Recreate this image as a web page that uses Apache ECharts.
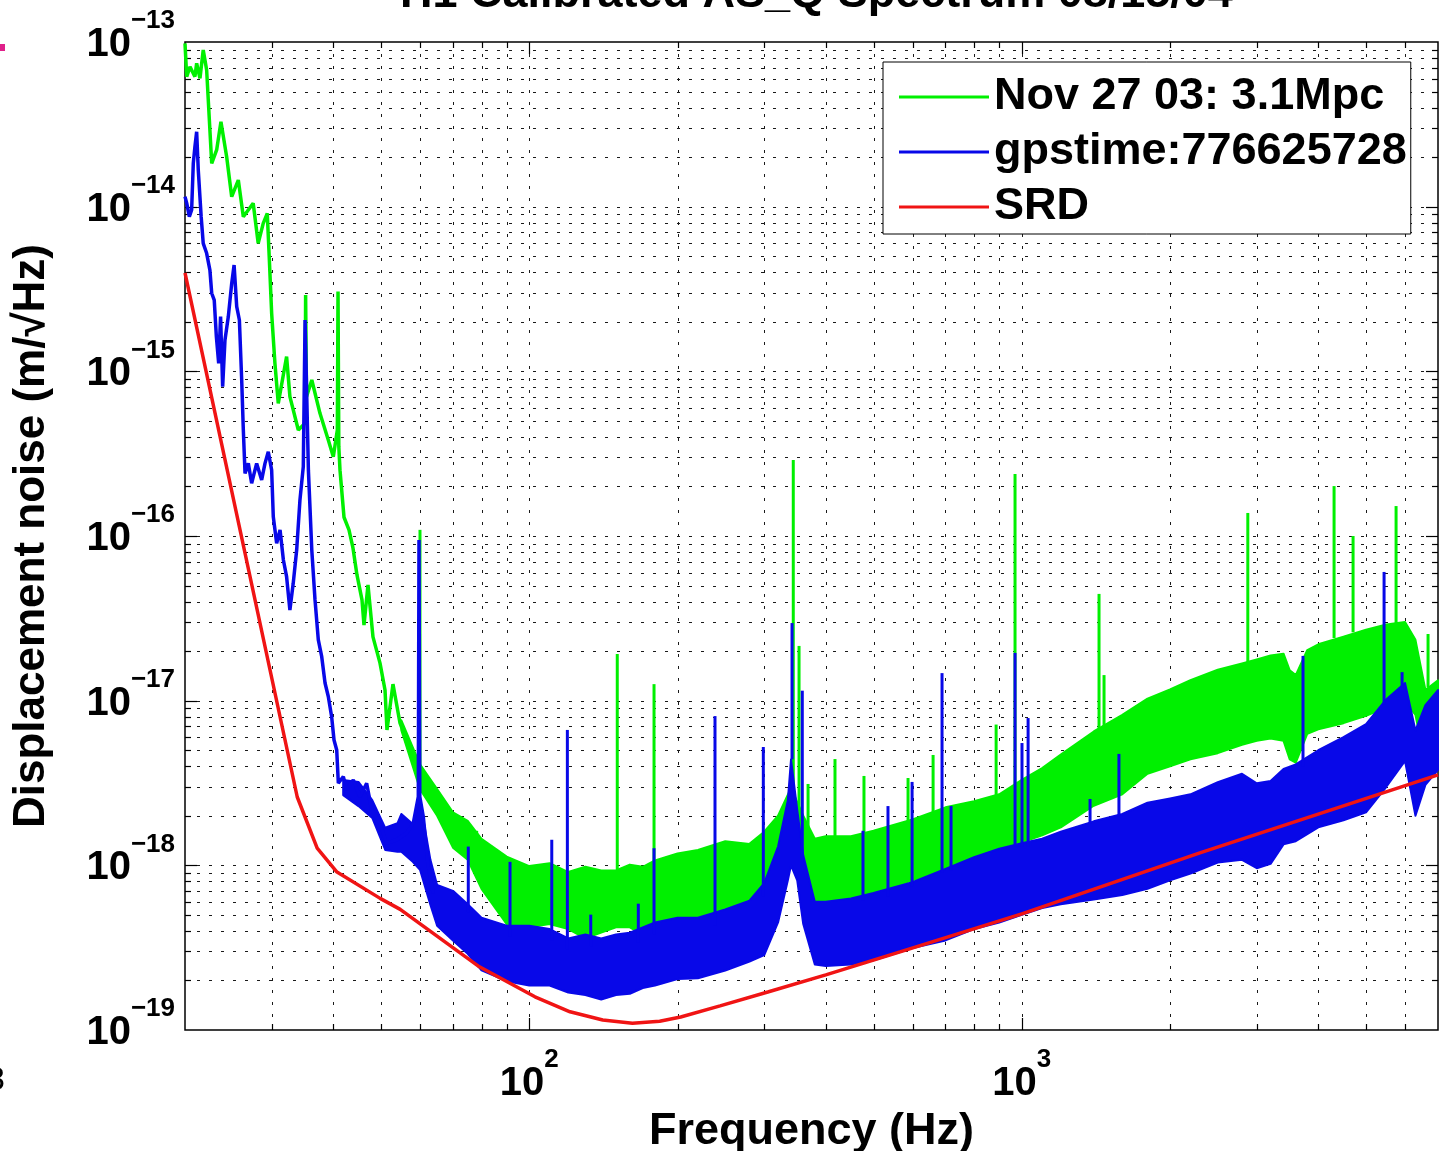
<!DOCTYPE html>
<html><head><meta charset="utf-8">
<script src="https://cdn.jsdelivr.net/npm/echarts@6/dist/echarts.min.js"></script>
<style>html,body{margin:0;padding:0;background:#fff}#c{width:1440px;height:1151px}</style>
</head><body><div id="c"></div>
<script>
// ---------------- text ----------------
const TITLE = 'H1 Calibrated AS_Q Spectrum 08/15/04';
const X_LABEL = 'Frequency (Hz)';
const Y_LABEL = 'Displacement noise (m/\u221AHz)';
const LEGEND_NAMES = ['Nov 27 03: 3.1Mpc', 'gpstime:776625728', 'SRD'];
const X_RANGE = [20, 7000];
const Y_RANGE = [1e-19, 1e-13];

// ---------------- SRD (red) ----------------
const SRD_F = [20, 33.8, 37.1, 40.7, 49.8, 54.7, 78.7, 102.7, 121, 141, 162, 184, 203, 244, 305, 400, 566, 1000, 2300, 7000];
const SRD_V = [3.96e-15, 2.6e-18, 1.27e-18, 9.1e-19, 6.3e-19, 5.4e-19, 2.45e-19, 1.59e-19, 1.29e-19, 1.15e-19, 1.10e-19, 1.13e-19, 1.2e-19, 1.4e-19, 1.7e-19, 2.16e-19, 2.98e-19, 5.07e-19, 1.19e-18, 3.54e-18];

// ---------------- Nov 27 03 (green): low-frequency trace ----------------
const GREEN_LF_F = [20, 20.16, 20.47, 20.95, 21.12, 21.45, 21.78, 22.13, 22.66, 23.19, 23.66, 24.30, 24.88, 25.66, 26.27, 27.51, 28.16, 28.83, 29.38, 29.65, 29.99, 30.45, 30.93, 32.16, 32.66, 33.97, 35.06, 35.15, 35.3, 36.18, 37.59, 39.08, 40.01, 40.77, 40.9, 41.05, 41.28, 42.06, 43.05, 43.86, 44.69, 45.75, 46.18, 47.05, 48.16, 49.77, 50.95, 51.42, 52.88, 54.64, 57.25, 60.01, 63.78];
const GREEN_LF_V = [9.82e-14, 6.16e-14, 7.08e-14, 6.16e-14, 7.42e-14, 6.02e-14, 8.94e-14, 6.76e-14, 1.83e-14, 2.21e-14, 3.28e-14, 2.01e-14, 1.15e-14, 1.45e-14, 8.69e-15, 1.05e-14, 5.99e-15, 7.92e-15, 9.11e-15, 4.97e-15, 2.25e-15, 1.12e-15, 6.39e-16, 1.23e-15, 7.02e-16, 4.4e-16, 4.84e-16, 2.91e-15, 7.0e-16, 8.86e-16, 5.56e-16, 3.83e-16, 3.03e-16, 4.4e-16, 3.05e-15, 3.5e-16, 2.51e-16, 1.30e-16, 1.09e-16, 8.46e-17, 5.8e-17, 4.09e-17, 2.88e-17, 5.04e-17, 2.44e-17, 1.69e-17, 1.16e-17, 6.64e-18, 1.26e-17, 7.32e-18, 5.02e-18, 3.44e-18, 2.49e-18];

// green noise band (upper / lower envelope)
const GREEN_BAND_F = [55, 60, 65, 70, 75, 80, 90, 100, 110, 120, 130, 140, 150, 160, 170, 180, 200, 220, 250, 280, 300, 320, 340, 360, 380, 400, 450, 500, 600, 700, 800, 900, 1000, 1100, 1200, 1400, 1600, 1800, 2000, 2200, 2500, 2800, 3000, 3200, 3400, 3500, 3600, 3800, 4000, 4500, 5000, 5500, 6000, 6300, 6600, 7000];
const GREEN_BAND_TOP = [7.6e-18, 4.1e-18, 2.9e-18, 2.1e-18, 1.86e-18, 1.45e-18, 1.13e-18, 9.9e-19, 1.03e-18, 9.1e-19, 9.8e-19, 9.3e-19, 9.3e-19, 1.01e-18, 9.8e-19, 1.07e-18, 1.18e-18, 1.24e-18, 1.4e-18, 1.35e-18, 1.6e-18, 2.0e-18, 2.95e-18, 2.0e-18, 1.45e-18, 1.5e-18, 1.5e-18, 1.62e-18, 1.9e-18, 2.25e-18, 2.45e-18, 2.7e-18, 3.3e-18, 3.9e-18, 4.7e-18, 6.5e-18, 8.2e-18, 1.03e-17, 1.17e-17, 1.33e-17, 1.54e-17, 1.68e-17, 1.78e-17, 1.88e-17, 1.93e-17, 1.53e-17, 1.43e-17, 2.03e-17, 2.2e-17, 2.45e-17, 2.7e-17, 2.9e-17, 3.0e-17, 2.34e-17, 1.16e-17, 1.33e-17];
const GREEN_BAND_BOT = [6.6e-18, 2.9e-18, 2.0e-18, 1.28e-18, 1.08e-18, 7.2e-19, 4.4e-19, 4.2e-19, 4.4e-19, 4.1e-19, 3.6e-19, 3.9e-19, 4.2e-19, 4.2e-19, 3.8e-19, 4.0e-19, 4.8e-19, 4.8e-19, 4.6e-19, 4.8e-19, 5.2e-19, 7.3e-19, 1.05e-18, 7.1e-19, 5.4e-19, 5.8e-19, 6.2e-19, 6.7e-19, 8.1e-19, 9.3e-19, 1.07e-18, 1.28e-18, 1.38e-18, 1.52e-18, 1.7e-18, 2.3e-18, 2.7e-18, 3.6e-18, 4.0e-18, 4.4e-18, 4.8e-18, 5.4e-18, 5.7e-18, 5.9e-18, 5.7e-18, 4.4e-18, 4.2e-18, 6.3e-18, 6.7e-18, 7.3e-18, 8.1e-18, 9.1e-18, 9.9e-18, 8.2e-18, 4.07e-18, 5.4e-18];

// green line spikes: frequency, foot, tip
const GREEN_SPIKE_F = [60.0, 78.2, 150.9, 179.2, 343.6, 353, 368.2, 417.6, 478.2, 587.6, 660.6, 887, 969, 1435, 1469, 2877, 4306, 4706, 5754, 6682];
const GREEN_SPIKE_BASE = [3.5e-18, 1.37e-18, 7.9e-19, 9.1e-19, 2.9e-18, 2.2e-18, 1.7e-18, 1.4e-18, 1.5e-18, 1.8e-18, 2.0e-18, 2.6e-18, 3.0e-18, 6.4e-18, 6.6e-18, 1.7e-17, 2.4e-17, 2.6e-17, 2.9e-17, 1.2e-17];
const GREEN_SPIKE_PEAK = [1.09e-16, 1.62e-18, 1.92e-17, 1.26e-17, 2.89e-16, 2.15e-17, 3.12e-18, 4.42e-18, 3.49e-18, 3.39e-18, 4.68e-18, 7.16e-18, 2.38e-16, 4.45e-17, 1.43e-17, 1.38e-16, 2.01e-16, 1.0e-16, 1.52e-16, 2.54e-17];

// ---------------- gpstime:776625728 (blue): low-frequency trace ----------------
const BLUE_LF_F = [20, 20.16, 20.41, 20.63, 20.79, 20.95, 21.12, 21.28, 21.57, 21.78, 22.13, 22.47, 22.66, 22.93, 23.16, 23.41, 23.62, 23.85, 24.11, 24.49, 24.88, 25.16, 25.47, 25.79, 26.07, 26.27, 26.48, 26.89, 27.31, 27.96, 28.62, 29.07, 29.52, 29.99, 30.22, 30.70, 31.19, 31.68, 32.16, 32.66, 33.17, 33.71, 34.23, 34.77, 35.06, 35.61, 36.18, 36.73, 37.30, 37.90, 38.49, 39.08, 39.70, 40.14, 40.65, 40.96, 41.93, 42.60, 43.92, 45.31, 46.76, 47.87, 49.77, 51.35, 53.80, 56.37, 58.14, 59.53, 59.72, 59.95, 60.94, 62.38, 63.83];
const BLUE_LF_V = [1.15e-14, 1.05e-14, 8.69e-15, 9.54e-15, 1.83e-14, 2.31e-14, 2.85e-14, 1.67e-14, 8.69e-15, 5.99e-15, 5.21e-15, 4.12e-15, 2.98e-15, 2.71e-15, 1.62e-15, 1.12e-15, 2.15e-15, 8.07e-16, 1.55e-15, 2.15e-15, 3.42e-15, 4.42e-15, 2.47e-15, 2.05e-15, 8.86e-16, 4.4e-16, 2.40e-16, 2.76e-16, 2.09e-16, 2.76e-16, 2.19e-16, 2.76e-16, 3.25e-16, 2.51e-16, 1.31e-16, 9.03e-17, 1.09e-16, 7.15e-17, 5.66e-17, 3.55e-17, 5.16e-17, 8.22e-17, 1.65e-16, 2.64e-16, 2.05e-15, 2.51e-16, 8.22e-17, 4.09e-17, 2.34e-17, 1.85e-17, 1.28e-17, 1.06e-17, 7.99e-18, 5.77e-18, 5.02e-18, 3.15e-18, 3.46e-18, 2.87e-18, 3.30e-18, 2.61e-18, 3.15e-18, 2.17e-18, 1.80e-18, 1.36e-18, 1.43e-18, 1.57e-18, 1.80e-18, 2.61e-18, 9.46e-17, 2.61e-18, 1.97e-18, 9.81e-19, 6.77e-19];

// blue noise band
const BLUE_BAND_F = [41.9, 45, 48, 51, 54, 55, 58, 60, 63, 65, 70, 75, 80, 90, 100, 110, 120, 130, 140, 150, 160, 170, 180, 200, 220, 250, 280, 300, 320, 335, 340, 350, 360, 380, 400, 450, 500, 600, 700, 800, 900, 1000, 1100, 1200, 1400, 1600, 1800, 2000, 2200, 2500, 2800, 3000, 3200, 3400, 3600, 4000, 4500, 5000, 5500, 6000, 6300, 6600, 7000];
const BLUE_BAND_TOP = [3.3e-18, 3.21e-18, 2.49e-18, 1.69e-18, 1.8e-18, 2.05e-18, 1.78e-18, 2.49e-18, 1.08e-18, 7.6e-19, 7.0e-19, 5.8e-19, 4.8e-19, 4.3e-19, 4.3e-19, 4.1e-19, 3.6e-19, 3.8e-19, 3.6e-19, 3.8e-19, 3.9e-19, 4.2e-19, 4.5e-19, 4.8e-19, 4.8e-19, 5.4e-19, 6.1e-19, 7.8e-19, 1.3e-18, 2.49e-18, 4.4e-18, 2.17e-18, 1.15e-18, 6.0e-19, 6.0e-19, 6.3e-19, 6.8e-19, 7.9e-19, 9.5e-19, 1.12e-18, 1.26e-18, 1.36e-18, 1.45e-18, 1.6e-18, 1.85e-18, 2.05e-18, 2.4e-18, 2.55e-18, 2.7e-18, 3.2e-18, 3.6e-18, 3.15e-18, 3.25e-18, 3.85e-18, 4.1e-18, 5.0e-18, 6.0e-18, 7.2e-18, 1.02e-17, 1.28e-17, 6.6e-18, 9.4e-18, 1.16e-17];
const BLUE_BAND_BOT = [2.67e-18, 2.29e-18, 1.94e-18, 1.24e-18, 1.21e-18, 1.21e-18, 1.05e-18, 9.4e-19, 5.75e-19, 4.3e-19, 3.5e-19, 2.9e-19, 2.3e-19, 1.98e-19, 1.86e-19, 1.86e-19, 1.69e-19, 1.63e-19, 1.53e-19, 1.63e-19, 1.66e-19, 1.8e-19, 1.86e-19, 2.04e-19, 2.06e-19, 2.3e-19, 2.6e-19, 2.85e-19, 4.5e-19, 8.1e-19, 1.0e-18, 8.1e-19, 4.4e-19, 2.5e-19, 2.45e-19, 2.5e-19, 2.65e-19, 3.15e-19, 3.5e-19, 4.1e-19, 4.5e-19, 5.0e-19, 5.5e-19, 5.8e-19, 6.2e-19, 6.6e-19, 7.2e-19, 8.1e-19, 8.9e-19, 1.04e-18, 1.08e-18, 9.6e-19, 1.02e-18, 1.34e-18, 1.4e-18, 1.7e-18, 1.88e-18, 2.1e-18, 3.0e-18, 4.3e-18, 2.0e-18, 3.08e-18, 3.8e-18];

// blue line spikes
const BLUE_SPIKE_F = [75.2, 91.4, 111.1, 119.5, 133.3, 166.5, 179.2, 238.3, 298.7, 341.6, 358.4, 476, 535, 598.8, 688.8, 718.4, 969, 1001, 1030, 1376, 1575, 3724, 5440, 5918];
const BLUE_SPIKE_BASE = [5.2e-19, 3.7e-19, 3.5e-19, 3.1e-19, 3.2e-19, 3.4e-19, 3.8e-19, 4.3e-19, 6.5e-19, 4.4e-18, 1.1e-18, 6.1e-19, 6.5e-19, 7.4e-19, 9.0e-19, 9.3e-19, 1.3e-18, 1.3e-18, 1.3e-18, 1.8e-18, 2.0e-18, 4.0e-18, 9.5e-18, 1.2e-17];
const BLUE_SPIKE_PEAK = [1.30e-18, 1.05e-18, 1.43e-18, 6.64e-18, 5.02e-19, 5.85e-19, 1.27e-18, 8.06e-18, 5.23e-18, 2.96e-17, 1.15e-17, 1.62e-18, 2.29e-18, 3.21e-18, 1.47e-17, 2.29e-18, 1.95e-17, 5.53e-18, 7.84e-18, 2.53e-18, 4.75e-18, 1.87e-17, 6.05e-17, 1.49e-17];

// ---------------- styling ----------------
const FONT = "'Liberation Sans', Arial, Helvetica, sans-serif";
const GREEN = '#00f000';
const BLUE = '#0808e8';
const RED = '#f01414';

// grid line positions (axis structure: 1..9 x each decade)
const GRID_X = [];
for (let d = 10; d <= 1000; d *= 10) for (let k = 1; k <= 9; k++) {
  const f = k * d; if (f > X_RANGE[0] && f < X_RANGE[1]) GRID_X.push({v: f, major: k === 1});
}
const GRID_Y = [];
for (let e = -19; e <= -14; e++) for (let k = 1; k <= 9; k++) {
  const v = k * Math.pow(10, e); if (k === 1 && e === -19) continue; GRID_Y.push({v: v, major: k === 1});
}

const zip = (a, b) => a.map((x, i) => [x, b[i]]);
const zip3 = (a, b, c) => a.map((x, i) => [x, b[i], c[i]]);

function renderFrame(params, api) {
  const cs = params.coordSys;
  const x0 = cs.x, y0 = cs.y, x1 = cs.x + cs.width, y1 = cs.y + cs.height;
  const ch = [];
  const dot = () => ({stroke: '#1a1a1a', lineWidth: 1, lineDash: [3, 9], fill: null});
  const tk = () => ({stroke: '#000', lineWidth: 1.2, fill: null});
  GRID_X.forEach(g => {
    const x = Math.round(api.coord([g.v, Y_RANGE[0]])[0]) + 0.5;
    ch.push({type: 'line', shape: {x1: x, y1: y0, x2: x, y2: y1}, style: dot()});
    const L = g.major ? 12 : 6;
    ch.push({type: 'line', shape: {x1: x, y1: y1, x2: x, y2: y1 - L}, style: tk()});
    ch.push({type: 'line', shape: {x1: x, y1: y0, x2: x, y2: y0 + L}, style: tk()});
  });
  GRID_Y.forEach(g => {
    const y = Math.round(api.coord([X_RANGE[0], g.v])[1]) + 0.5;
    ch.push({type: 'line', shape: {x1: x0, y1: y, x2: x1, y2: y}, style: dot()});
    const L = g.major ? 12 : 6;
    ch.push({type: 'line', shape: {x1: x0, y1: y, x2: x0 + L, y2: y}, style: tk()});
    ch.push({type: 'line', shape: {x1: x1, y1: y, x2: x1 - L, y2: y}, style: tk()});
  });
  ch.push({type: 'rect', shape: {x: x0, y: y0, width: cs.width, height: cs.height}, style: {fill: null, stroke: '#000', lineWidth: 1.5}});
  return {type: 'group', children: ch};
}

function bandRenderer(F, TOP, BOT, color) {
  return function (params, api) {
    if (params.dataIndex !== 0) return null;
    const pts = [];
    for (let i = 0; i < F.length; i++) pts.push(api.coord([F[i], TOP[i]]));
    for (let i = F.length - 1; i >= 0; i--) pts.push(api.coord([F[i], BOT[i]]));
    return {type: 'polygon', shape: {points: pts}, style: {fill: color, stroke: color, lineWidth: 2, lineJoin: 'round'}};
  };
}
function spikeRenderer(color) {
  return function (params, api) {
    const a = api.coord([api.value(0), api.value(1)]);
    const b = api.coord([api.value(0), api.value(2)]);
    return {type: 'line', shape: {x1: a[0], y1: a[1], x2: b[0], y2: b[1]}, style: {stroke: color, lineWidth: 3}};
  };
}

const RICH = {
  b: {fontSize: 40, fontWeight: 'bold', fontFamily: FONT, color: '#000', verticalAlign: 'bottom', padding: [17, 0, 11, 0]},
  e: {fontSize: 26, fontWeight: 'bold', fontFamily: FONT, color: '#000', verticalAlign: 'top'}
};
function decadeExp(v) {
  const l = Math.log10(v); const r = Math.round(l);
  return Math.abs(l - r) < 1e-6 ? r : null;
}

const option = {
  animation: false,
  backgroundColor: '#fff',
  title: {
    text: TITLE, left: 395, top: -33,
    textStyle: {fontSize: 45, fontWeight: 'bold', fontFamily: FONT, color: '#000'}
  },
  grid: {left: 185, top: 42, right: 2, bottom: 121, containLabel: false, outerBoundsMode: 'none'},
  legend: {
    data: LEGEND_NAMES, orient: 'vertical', left: 883, top: 62,
    backgroundColor: '#fff', borderColor: '#000', borderWidth: 1,
    padding: [10, 4, 2, 16], itemWidth: 90, itemHeight: 3, itemGap: 5, icon: 'rect',
    selectedMode: false,
    textStyle: {fontSize: 45, fontWeight: 'bold', fontFamily: FONT, color: '#000', lineHeight: 50}
  },
  xAxis: {
    type: 'log', logBase: 10, min: X_RANGE[0], max: X_RANGE[1],
    axisLine: {show: false}, axisTick: {show: false}, splitLine: {show: false},
    axisLabel: {
      margin: 17, rich: RICH,
      formatter: v => { const e = decadeExp(v); return e === null ? '' : '{b|10}{e|' + e + '}'; }
    },
    name: X_LABEL, nameLocation: 'middle', nameGap: 76,
    nameTextStyle: {fontSize: 45, fontWeight: 'bold', fontFamily: FONT, color: '#000'}
  },
  yAxis: {
    type: 'log', logBase: 10, min: Y_RANGE[0], max: Y_RANGE[1],
    axisLine: {show: false}, axisTick: {show: false}, splitLine: {show: false},
    axisLabel: {
      margin: 10, rich: RICH,
      formatter: v => { const e = decadeExp(v); return e === null ? '' : '{b|10}{e|\u2212' + Math.abs(e) + '}'; }
    },
    name: Y_LABEL, nameLocation: 'middle', nameGap: 131, nameRotate: 90,
    nameTextStyle: {fontSize: 44, fontWeight: 'bold', fontFamily: FONT, color: '#000'}
  },
  graphic: [
    {type: 'rect', left: 0, top: 44, shape: {width: 5, height: 7}, style: {fill: '#e0208a'}},
    {type: 'text', left: -14, top: 1064, style: {text: '8', fontSize: 34, fontFamily: FONT, fill: '#000'}}
  ],
  series: [
    {type: 'custom', name: 'frame', silent: true, z: 1, data: [[X_RANGE[0], Y_RANGE[0]]], renderItem: renderFrame},
    {type: 'custom', name: 'green band', silent: true, z: 2, data: [[GREEN_BAND_F[0], GREEN_BAND_TOP[0]]],
      renderItem: bandRenderer(GREEN_BAND_F, GREEN_BAND_TOP, GREEN_BAND_BOT, GREEN)},
    {type: 'custom', name: 'green spikes', silent: true, z: 2, encode: {x: 0, y: [1, 2]},
      data: zip3(GREEN_SPIKE_F, GREEN_SPIKE_BASE, GREEN_SPIKE_PEAK), renderItem: spikeRenderer(GREEN)},
    {type: 'line', name: LEGEND_NAMES[0], z: 3, symbol: 'none', showSymbol: false,
      lineStyle: {color: GREEN, width: 3.5}, itemStyle: {color: GREEN}, data: zip(GREEN_LF_F, GREEN_LF_V)},
    {type: 'custom', name: 'blue band', silent: true, z: 4, data: [[BLUE_BAND_F[0], BLUE_BAND_TOP[0]]],
      renderItem: bandRenderer(BLUE_BAND_F, BLUE_BAND_TOP, BLUE_BAND_BOT, BLUE)},
    {type: 'custom', name: 'blue spikes', silent: true, z: 4, encode: {x: 0, y: [1, 2]},
      data: zip3(BLUE_SPIKE_F, BLUE_SPIKE_BASE, BLUE_SPIKE_PEAK), renderItem: spikeRenderer(BLUE)},
    {type: 'line', name: LEGEND_NAMES[1], z: 5, symbol: 'none', showSymbol: false,
      lineStyle: {color: BLUE, width: 3.5}, itemStyle: {color: BLUE}, data: zip(BLUE_LF_F, BLUE_LF_V)},
    {type: 'line', name: LEGEND_NAMES[2], z: 6, symbol: 'none', showSymbol: false,
      lineStyle: {color: RED, width: 3.5}, itemStyle: {color: RED}, data: zip(SRD_F, SRD_V)}
  ]
};
const chart = echarts.init(document.getElementById('c'));
chart.setOption(option);
</script>
</body></html>
